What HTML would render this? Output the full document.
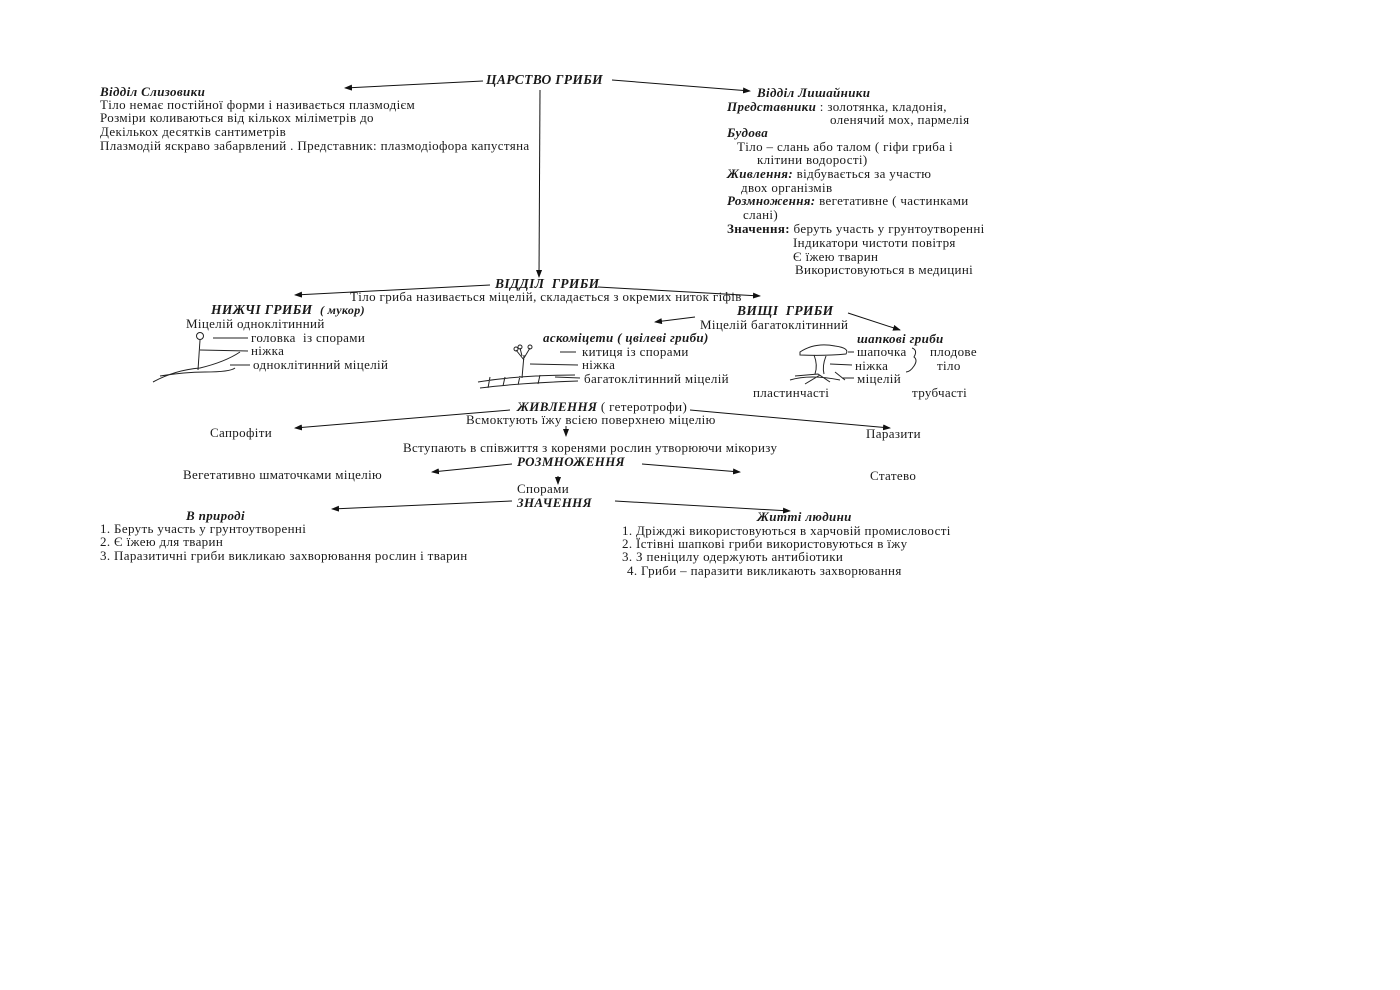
<!DOCTYPE html>
<html><head><meta charset="utf-8"><style>
body{margin:0;width:1400px;height:990px;background:#fff;position:relative;overflow:hidden;font-family:"Liberation Serif",serif;color:#1a1a1a}
.t{position:absolute;font-size:13px;line-height:14px;white-space:nowrap;letter-spacing:0.35px}
.b{font-weight:bold;font-style:italic}
svg{position:absolute;left:0;top:0}
</style></head><body>
<svg width="1400" height="990" viewBox="0 0 1400 990">
<defs><marker id="a" markerWidth="8" markerHeight="6" refX="7" refY="3" orient="auto"><path d="M0,0 L8,3 L0,6z" fill="#111"/></marker></defs>
<g stroke="#111" stroke-width="1" fill="none" marker-end="url(#a)">
<line x1="483" y1="81" x2="345" y2="88"/>
<line x1="612" y1="80" x2="750" y2="91"/>
<line x1="540" y1="90" x2="539" y2="277"/>
<line x1="490" y1="285" x2="295" y2="295"/>
<line x1="598" y1="287" x2="760" y2="296"/>
<line x1="695" y1="317" x2="655" y2="322"/>
<line x1="848" y1="313" x2="900" y2="330"/>
<line x1="510" y1="410" x2="295" y2="428"/>
<line x1="690" y1="410" x2="890" y2="428"/>
<line x1="566" y1="426" x2="566" y2="436"/>
<line x1="512" y1="464" x2="432" y2="472"/>
<line x1="642" y1="464" x2="740" y2="472"/>
<line x1="558" y1="476" x2="558" y2="484"/>
<line x1="512" y1="501" x2="332" y2="509"/>
<line x1="615" y1="501" x2="790" y2="511"/>
</g>
<g stroke="#222" stroke-width="1" fill="none">
<circle cx="200" cy="336" r="3.5"/><line x1="200" y1="340" x2="198" y2="370"/>
<line x1="213" y1="338" x2="248" y2="338"/><line x1="200" y1="350" x2="248" y2="351"/><line x1="230" y1="365" x2="250" y2="365"/>
<path d="M153 382 Q175 370 200 368 Q225 362 240 352 M160 376 Q185 372 205 372 Q230 372 235 368"/>
<line x1="522" y1="378" x2="524" y2="355"/><path d="M524 360 L516 350 M524 358 L530 348 M522 356 L520 348"/>
<circle cx="516" cy="349" r="2"/><circle cx="530" cy="347" r="2"/><circle cx="520" cy="347" r="2"/>
<line x1="560" y1="352" x2="576" y2="352"/><line x1="530" y1="364" x2="578" y2="365"/><line x1="555" y1="377" x2="580" y2="378"/>
<path d="M478 382 Q520 375 575 375 M480 388 Q520 383 578 381 M490 377 L488 388 M505 377 L503 386 M520 376 L518 385 M540 375 L538 384"/>
<path d="M800 352 Q815 342 835 346 Q850 348 846 354 Q825 356 800 355 Z"/>
<path d="M814 355 Q818 365 815 374 M826 356 Q822 366 824 374"/>
<path d="M790 380 Q810 374 840 380 M795 376 L818 374 L830 382 M805 384 L820 375 M835 372 L845 380"/>
<line x1="848" y1="352" x2="854" y2="352"/><line x1="830" y1="364" x2="852" y2="365"/><line x1="842" y1="378" x2="854" y2="378"/>
<path d="M912 348 Q918 350 914 357 Q918 360 914 366 Q910 372 906 372"/>
</g>
</svg>
<div class="t b" style="left:486px;top:73px;font-size:13.5px">ЦАРСТВО ГРИБИ</div>
<div class="t b" style="left:100px;top:85px">Відділ Слизовики</div>
<div class="t" style="left:100px;top:98px">Тіло немає постійної форми і називається плазмодієм</div>
<div class="t" style="left:100px;top:111px">Розміри коливаються від кількох міліметрів до</div>
<div class="t" style="left:100px;top:125px">Декількох десятків сантиметрів</div>
<div class="t" style="left:100px;top:139px">Плазмодій яскраво забарвлений . Представник: плазмодіофора капустяна</div>

<div class="t b" style="left:757px;top:86px">Відділ Лишайники</div>
<div class="t" style="left:727px;top:100px"><b><i>Представники</i></b> : золотянка, кладонія,</div>
<div class="t" style="left:830px;top:113px">оленячий мох, пармелія</div>
<div class="t b" style="left:727px;top:126px">Будова</div>
<div class="t" style="left:737px;top:140px">Тіло – слань або талом ( гіфи гриба і</div>
<div class="t" style="left:757px;top:153px">клітини водорості)</div>
<div class="t" style="left:727px;top:167px"><b><i>Живлення:</i></b> відбувається за участю</div>
<div class="t" style="left:741px;top:181px">двох організмів</div>
<div class="t" style="left:727px;top:194px"><b><i>Розмноження:</i></b> вегетативне ( частинками</div>
<div class="t" style="left:743px;top:208px">слані)</div>
<div class="t" style="left:727px;top:222px"><b>Значення:</b> беруть участь у грунтоутворенні</div>
<div class="t" style="left:793px;top:236px">Індикатори чистоти повітря</div>
<div class="t" style="left:793px;top:250px">Є їжею тварин</div>
<div class="t" style="left:795px;top:263px">Використовуються в медицині</div>

<div class="t b" style="left:495px;top:277px;font-size:13.5px">ВІДДІЛ&nbsp; ГРИБИ</div>
<div class="t" style="left:350px;top:290px">Тіло гриба називається міцелій, складається з окремих ниток гіфів</div>
<div class="t b" style="left:211px;top:303px;font-size:13.5px">НИЖЧІ ГРИБИ&nbsp; <span style="font-size:12px">( мукор)</span></div>
<div class="t" style="left:186px;top:317px">Міцелій одноклітинний</div>
<div class="t" style="left:251px;top:331px">головка&nbsp; із спорами</div>
<div class="t" style="left:251px;top:344px">ніжка</div>
<div class="t" style="left:253px;top:358px">одноклітинний міцелій</div>
<div class="t b" style="left:737px;top:304px;font-size:13.5px">ВИЩІ&nbsp; ГРИБИ</div>
<div class="t" style="left:700px;top:318px">Міцелій багатоклітинний</div>
<div class="t b" style="left:543px;top:331px">аскоміцети ( цвілеві гриби)</div>
<div class="t" style="left:582px;top:345px">китиця із спорами</div>
<div class="t" style="left:582px;top:358px">ніжка</div>
<div class="t" style="left:584px;top:372px">багатоклітинний міцелій</div>
<div class="t b" style="left:857px;top:332px">шапкові гриби</div>
<div class="t" style="left:857px;top:345px">шапочка</div>
<div class="t" style="left:855px;top:359px">ніжка</div>
<div class="t" style="left:857px;top:372px">міцелій</div>
<div class="t" style="left:930px;top:345px">плодове</div>
<div class="t" style="left:937px;top:359px">тіло</div>
<div class="t" style="left:753px;top:386px">пластинчасті</div>
<div class="t" style="left:912px;top:386px">трубчасті</div>

<div class="t" style="left:517px;top:400px"><b><i>ЖИВЛЕННЯ</i></b> ( гетеротрофи)</div>
<div class="t" style="left:466px;top:413px">Всмоктують їжу всією поверхнею міцелію</div>
<div class="t" style="left:210px;top:426px">Сапрофіти</div>
<div class="t" style="left:866px;top:427px">Паразити</div>
<div class="t" style="left:403px;top:441px">Вступають в співжиття з коренями рослин утворюючи мікоризу</div>
<div class="t b" style="left:517px;top:455px">РОЗМНОЖЕННЯ</div>
<div class="t" style="left:183px;top:468px">Вегетативно шматочками міцелію</div>
<div class="t" style="left:870px;top:469px">Статево</div>
<div class="t" style="left:517px;top:482px">Спорами</div>
<div class="t b" style="left:517px;top:496px">ЗНАЧЕННЯ</div>
<div class="t b" style="left:186px;top:509px">В природі</div>
<div class="t" style="left:100px;top:522px">1. Беруть участь у грунтоутворенні</div>
<div class="t" style="left:100px;top:535px">2. Є їжею для тварин</div>
<div class="t" style="left:100px;top:549px">3. Паразитичні гриби викликаю захворювання рослин і тварин</div>
<div class="t b" style="left:757px;top:510px">Житті людини</div>
<div class="t" style="left:622px;top:524px">1. Дріжджі використовуються в харчовій промисловості</div>
<div class="t" style="left:622px;top:537px">2. Їстівні шапкові гриби використовуються в їжу</div>
<div class="t" style="left:622px;top:550px">3. З пеніцилу одержують антибіотики</div>
<div class="t" style="left:627px;top:564px">4. Гриби – паразити викликають захворювання</div>
</body></html>
